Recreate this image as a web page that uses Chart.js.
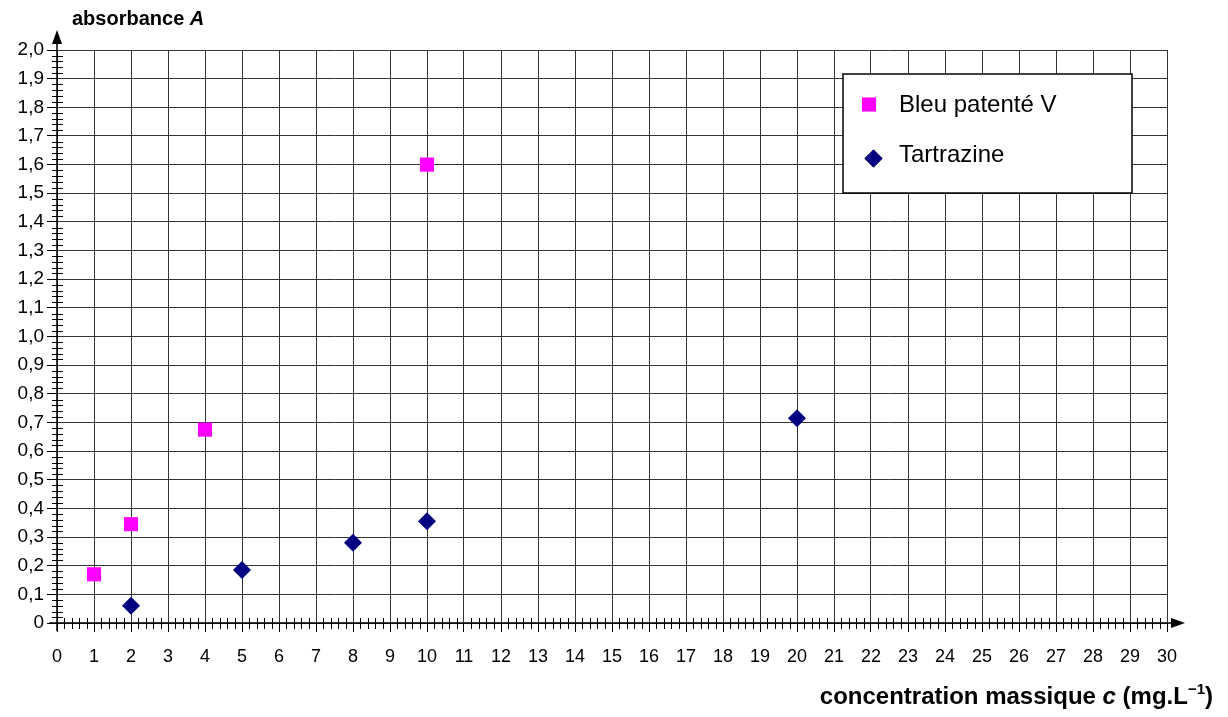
<!DOCTYPE html>
<html>
<head>
<meta charset="utf-8">
<script src="https://cdn.jsdelivr.net/npm/chart.js@4.4.0/dist/chart.umd.min.js"></script>
<style>
  html, body { margin: 0; padding: 0; background: #fff; }
  #wrap { width: 1228px; height: 717px; }
</style>
</head>
<body>
<div id="wrap"><canvas id="absChart" width="1228" height="717"></canvas></div>
<script>
// values (concentration in mg/L, absorbance)
var bleuC = [1, 2, 4, 10];
var bleuA = [0.17, 0.345, 0.675, 1.60];
var tartC = [2, 5, 8, 10, 20];
var tartA = [0.06, 0.185, 0.28, 0.355, 0.715];
var seriesNames = ['Bleu patenté V', 'Tartrazine'];
var xMax = 30, yMax = 2.0;

function toPoints(xs, ys) {
    return xs.map(function (x, i) { return { x: x, y: ys[i] }; });
}

var FONT = '"Liberation Sans", Arial, sans-serif';

// minor ticks, arrows, titles and the boxed legend
var extras = {
    id: 'extras',
    beforeDatasetsDraw: function (chart) {
        var ctx = chart.ctx, a = chart.chartArea;
        var xs = chart.scales.x, ys = chart.scales.y;
        ctx.save();
        ctx.strokeStyle = '#000';
        ctx.lineWidth = 1;
        ctx.beginPath();
        // y minor ticks every 0.02
        for (var i = 1; i < 100; i++) {
            if (i % 5 === 0) continue;
            var py = Math.round(ys.getPixelForValue(i * 0.02)) + 0.5;
            ctx.moveTo(a.left - 5, py);
            ctx.lineTo(a.left + 6, py);
        }
        // x minor ticks every 0.2
        for (var j = 1; j < 150; j++) {
            if (j % 5 === 0) continue;
            var px = Math.round(xs.getPixelForValue(j * 0.2)) + 0.5;
            ctx.moveTo(px, a.bottom - 5);
            ctx.lineTo(px, a.bottom + 6);
        }
        ctx.stroke();

        // axis lines with arrows
        ctx.lineWidth = 1.5;
        ctx.beginPath();
        ctx.moveTo(a.left, a.bottom + 8);
        ctx.lineTo(a.left, a.top - 8);
        ctx.moveTo(a.left - 8, a.bottom);
        ctx.lineTo(a.right + 6, a.bottom);
        ctx.stroke();
        ctx.fillStyle = '#000';
        ctx.beginPath();
        ctx.moveTo(a.left, a.top - 20);
        ctx.lineTo(a.left - 5, a.top - 6);
        ctx.lineTo(a.left + 5, a.top - 6);
        ctx.closePath();
        ctx.fill();
        ctx.beginPath();
        ctx.moveTo(a.right + 18, a.bottom);
        ctx.lineTo(a.right + 4, a.bottom - 5);
        ctx.lineTo(a.right + 4, a.bottom + 5);
        ctx.closePath();
        ctx.fill();
        ctx.restore();
    },
    afterDraw: function (chart) {
        var ctx = chart.ctx;
        ctx.save();
        ctx.fillStyle = '#000';
        ctx.textBaseline = 'alphabetic';

        // y axis title
        ctx.font = 'bold 20px ' + FONT;
        ctx.fillText('absorbance ', 72, 25);
        var w = ctx.measureText('absorbance ').width;
        ctx.font = 'italic bold 20px ' + FONT;
        ctx.fillText('A', 72 + w, 25);

        // x axis title, right aligned
        var parts = [
            ['concentration massique ', 'bold 24px ', 0],
            ['c', 'italic bold 24px ', 0],
            [' (mg.L', 'bold 24px ', 0],
            ['\u22121', 'bold 15px ', -10],
            [')', 'bold 24px ', 0]
        ];
        var total = 0;
        parts.forEach(function (p) { ctx.font = p[1] + FONT; total += ctx.measureText(p[0]).width; });
        var x = 1213 - total;
        parts.forEach(function (p) {
            ctx.font = p[1] + FONT;
            ctx.fillText(p[0], x, 704 + p[2]);
            x += ctx.measureText(p[0]).width;
        });

        // legend box
        ctx.fillStyle = '#fff';
        ctx.fillRect(843, 74, 289, 119);
        ctx.strokeStyle = '#000';
        ctx.lineWidth = 1.5;
        ctx.strokeRect(843, 74, 289, 119);
        var marks = [[869, 104.5], [873.5, 158.5]];
        var bases = [112, 162];
        chart.data.datasets.forEach(function (ds, k) {
            Chart.helpers.drawPoint(ctx, {
                pointStyle: ds.pointStyle, rotation: 0,
                radius: ds.pointRadius, borderWidth: 0
            }, marks[k][0], marks[k][1]);
            ctx.fillStyle = ds.backgroundColor;
            ctx.fill();
            ctx.fillStyle = '#000';
            ctx.font = '24px ' + FONT;
            ctx.fillText(ds.label, 899, bases[k]);
        });
        ctx.restore();
    }
};

new Chart(document.getElementById('absChart'), {
    type: 'scatter',
    data: {
        datasets: [{
            label: seriesNames[0],
            data: toPoints(bleuC, bleuA),
            pointStyle: 'rect',
            pointRadius: 10,
            pointHoverRadius: 10,
            backgroundColor: '#FF00FF',
            borderColor: '#FF00FF',
            borderWidth: 0
        }, {
            label: seriesNames[1],
            data: toPoints(tartC, tartA),
            pointStyle: 'rectRot',
            pointRadius: 9,
            pointHoverRadius: 9,
            backgroundColor: '#000080',
            borderColor: '#000080',
            borderWidth: 0
        }]
    },
    options: {
        responsive: false,
        animation: false,
        layout: { padding: { top: 50, right: 61, left: 0, bottom: 0 } },
        plugins: {
            legend: { display: false },
            tooltip: { enabled: false }
        },
        scales: {
            x: {
                type: 'linear',
                min: 0, max: xMax,
                afterFit: function (s) { s.height = 94; },
                grid: { color: '#333', lineWidth: 1, tickLength: 9, tickColor: '#000' },
                border: { display: false },
                ticks: {
                    stepSize: 1, autoSkip: false, maxRotation: 0,
                    padding: 14, color: '#000',
                    font: { family: FONT, size: 18 }
                }
            },
            y: {
                type: 'linear',
                min: 0, max: yMax,
                afterFit: function (s) { s.width = 57; },
                grid: { color: '#333', lineWidth: 1, tickLength: 10, tickColor: '#000' },
                border: { display: false },
                ticks: {
                    stepSize: 0.1, autoSkip: false, padding: 3, color: '#000',
                    font: { family: FONT, size: 19 },
                    callback: function (v) { return v === 0 ? '0' : v.toFixed(1).replace('.', ','); }
                }
            }
        }
    },
    plugins: [extras]
});
</script>
</body>
</html>
